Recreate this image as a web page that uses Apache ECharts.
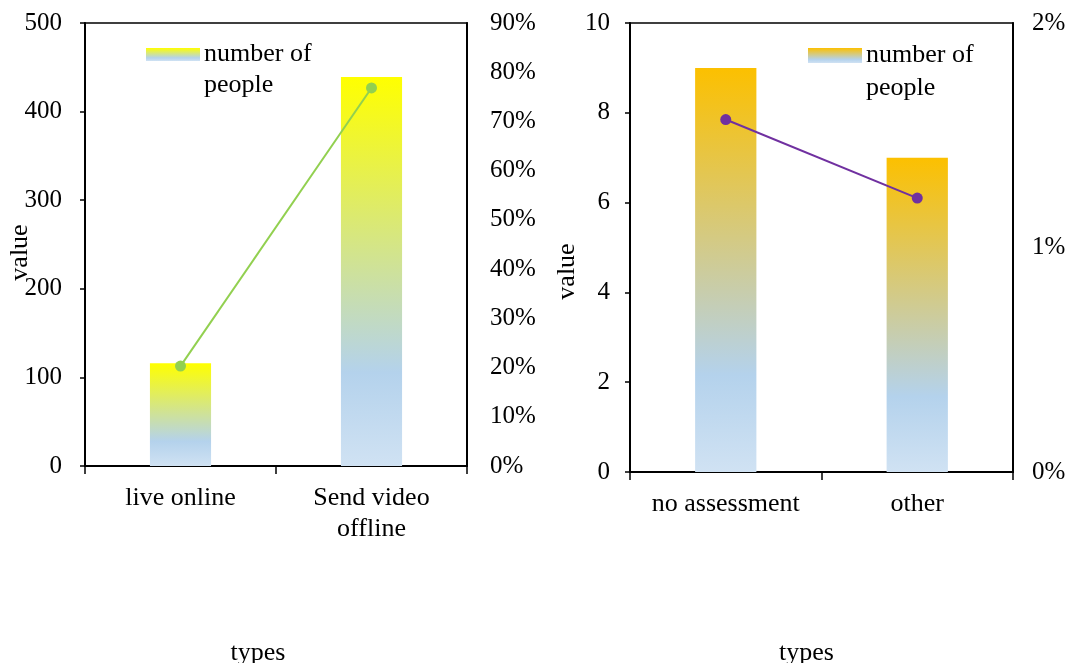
<!DOCTYPE html>
<html><head><meta charset="utf-8">
<script src="https://cdn.jsdelivr.net/npm/echarts@6/dist/echarts.min.js"></script>
<style>html,body{margin:0;padding:0;background:#fff}#c{width:1069px;height:663px}</style>
</head><body><div id="c"></div>
<script>
const catsA = ['live online', 'Send video\noffline'];
const barA = [116, 439];
const pctA = [0.203, 0.768];
const catsB = ['no assessment', 'other'];
const barB = [9, 7];
const pctB = [0.0157, 0.0122];
const font = 'Liberation Serif';

function grad(top) {
  return new echarts.graphic.LinearGradient(0, 0, 0, 1, [
    {offset: 0, color: top},
    {offset: 0.76, color: '#b4d2ec'},
    {offset: 1, color: '#d0e2f3'}
  ]);
}
const ytxt = {fontFamily: font, fontSize: 25, color: '#000'};
const txt = {fontFamily: font, fontSize: 26, color: '#000'};
const blk = {lineStyle: {color: '#000', width: 2}};
const tick = {show: true, length: 5, lineStyle: {color: '#000', width: 1.5}};
const xtick = {show: true, length: 8, lineStyle: {color: '#000', width: 1.5}};
const legendLabel = () => ' \nnumber of\npeople';

const chart = echarts.init(document.getElementById('c'));
chart.setOption({
  animation: false,
  textStyle: {fontFamily: font},
  grid: [
    {left: 85, right: 602, top: 23, bottom: 197, outerBoundsMode: 'none', containLabel: false,
     show: true, borderColor: '#000', borderWidth: 1.5, backgroundColor: 'transparent'},
    {left: 630, right: 56, top: 23, bottom: 191, outerBoundsMode: 'none', containLabel: false,
     show: true, borderColor: '#000', borderWidth: 1.5, backgroundColor: 'transparent'}
  ],
  legend: [
    {data: ['number of people'], left: 146, top: 8, padding: 0, icon: 'rect', itemWidth: 54, itemHeight: 13, itemGap: 4,
     formatter: legendLabel, textStyle: {...txt, lineHeight: 31, padding: [0, 0, 0, -1]}, selectedMode: false},
    {data: ['number of people '], left: 808, top: 6, padding: 0, icon: 'rect', itemWidth: 54, itemHeight: 15, itemGap: 4,
     formatter: legendLabel, textStyle: {...txt, lineHeight: 33, padding: [0, 0, 0, -1]}, selectedMode: false}
  ],
  xAxis: [
    {type: 'category', gridIndex: 0, data: catsA, boundaryGap: true,
     axisLine: blk, axisTick: xtick,
     axisLabel: {...txt, margin: 17, lineHeight: 31, interval: 0},
     name: 'types', nameLocation: 'middle', nameGap: 174, nameTextStyle: {...txt, padding: [0, 36, 0, 0]}},
    {type: 'category', gridIndex: 1, data: catsB, boundaryGap: true,
     axisLine: blk, axisTick: xtick,
     axisLabel: {...txt, margin: 19, interval: 0},
     name: 'types', nameLocation: 'middle', nameGap: 168, nameTextStyle: {...txt, padding: [0, 30, 0, 0]}}
  ],
  yAxis: [
    {type: 'value', gridIndex: 0, min: 0, max: 500, interval: 100, position: 'left',
     axisLine: {show: true, ...blk}, axisTick: tick,
     splitLine: {show: false}, axisLabel: {...ytxt, margin: 23},
     name: 'value', nameLocation: 'middle', nameGap: 52, nameMoveOverlap: false,
     nameTextStyle: {...txt, padding: [0, 16, 0, 0]}},
    {type: 'value', gridIndex: 0, min: 0, max: 0.9, interval: 0.1, position: 'right',
     axisLine: {show: true, ...blk}, axisTick: {show: false}, splitLine: {show: false},
     axisLabel: {...ytxt, margin: 23, formatter: v => Math.round(v * 100) + '%'}},
    {type: 'value', gridIndex: 1, min: 0, max: 10, interval: 2, position: 'left',
     axisLine: {show: true, ...blk}, axisTick: tick,
     splitLine: {show: false}, axisLabel: {...ytxt, margin: 20},
     name: 'value', nameLocation: 'middle', nameGap: 50, nameMoveOverlap: false,
     nameTextStyle: {...txt, padding: [0, 48, 0, 0]}},
    {type: 'value', gridIndex: 1, min: 0, max: 0.02, interval: 0.01, position: 'right',
     axisLine: {show: true, ...blk}, axisTick: {show: false}, splitLine: {show: false},
     axisLabel: {...ytxt, margin: 19, formatter: v => Math.round(v * 100) + '%'}}
  ],
  series: [
    {name: 'number of people', type: 'bar', xAxisIndex: 0, yAxisIndex: 0, data: barA, barWidth: '32%',
     itemStyle: {color: grad('#ffff00')}},
    {name: 'share A', type: 'line', xAxisIndex: 0, yAxisIndex: 1, data: pctA,
     symbol: 'circle', symbolSize: 11, lineStyle: {color: '#92d050', width: 2}, itemStyle: {color: '#92d050'}},
    {name: 'number of people ', type: 'bar', xAxisIndex: 1, yAxisIndex: 2, data: barB, barWidth: '32%',
     itemStyle: {color: grad('#fcc000')}},
    {name: 'share B', type: 'line', xAxisIndex: 1, yAxisIndex: 3, data: pctB,
     symbol: 'circle', symbolSize: 11, lineStyle: {color: '#7030a0', width: 2}, itemStyle: {color: '#7030a0'}}
  ]
});
</script></body></html>
